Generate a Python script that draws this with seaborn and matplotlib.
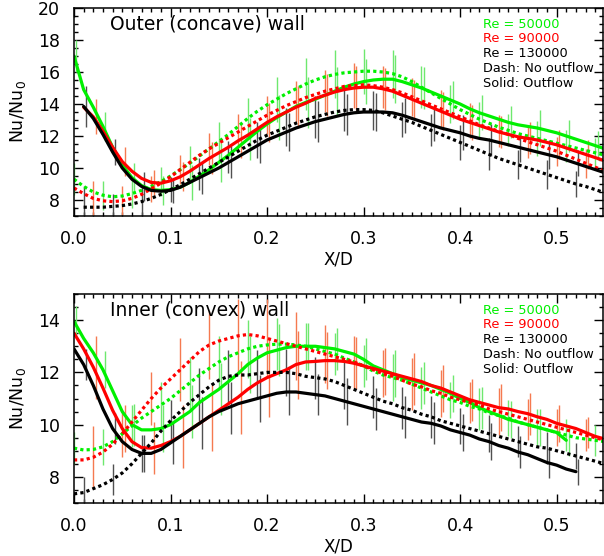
import numpy as np
import pandas as pd
import matplotlib
matplotlib.use("Agg")
import matplotlib.pyplot as plt
from matplotlib.ticker import MultipleLocator, FormatStrFormatter
import seaborn as sns

nan = np.nan

# X/D stations (every 0.01)
x_d = [0.00, 0.01, 0.02, 0.03, 0.04, 0.05, 0.06, 0.07, 0.08, 0.09,
       0.10, 0.11, 0.12, 0.13, 0.14, 0.15, 0.16, 0.17, 0.18, 0.19,
       0.20, 0.21, 0.22, 0.23, 0.24, 0.25, 0.26, 0.27, 0.28, 0.29,
       0.30, 0.31, 0.32, 0.33, 0.34, 0.35, 0.36, 0.37, 0.38, 0.39,
       0.40, 0.41, 0.42, 0.43, 0.44, 0.45, 0.46, 0.47, 0.48, 0.49,
       0.50, 0.51, 0.52, 0.53, 0.54, 0.55]

re_levels = ["50000", "90000", "130000"]

# ---- outer (concave) wall ----
gs_top = [17.0, 14.9, 13.8, 12.6, 11.3, 10.2, 9.4, 8.9, 8.65, 8.6,
          8.65, 8.8, 9.1, 9.5, 9.9, 10.35, 10.8, 11.3, 11.8, 12.3,
          12.75, 13.15, 13.5, 13.85, 14.1, 14.3, 14.55, 14.8, 15.05, 15.25,
          15.4, 15.5, 15.55, 15.55, 15.4, 15.2, 15.0, 14.75, 14.5, 14.25,
          14.0, 13.7, 13.45, 13.25, 13.05, 12.85, 12.7, 12.6, 12.5, 12.35,
          12.2, 12.0, 11.8, 11.6, 11.4, 11.2]
gd_top = [9.3, 8.85, 8.5, 8.3, 8.2, 8.25, 8.4, 8.6, 8.85, 9.15,
          9.5, 9.9, 10.3, 10.75, 11.2, 11.65, 12.1, 12.6, 13.1, 13.55,
          13.95, 14.3, 14.65, 14.95, 15.25, 15.5, 15.7, 15.85, 15.95, 16.0,
          16.05, 16.05, 16.0, 15.9, 15.7, 15.4, 15.05, 14.7, 14.35, 14.0,
          13.65, 13.35, 13.05, 12.8, 12.55, 12.35, 12.15, 12.0, 11.85, 11.7,
          11.55, 11.4, 11.25, 11.1, 10.95, 10.8]
rs_top = [nan, 13.8, 13.2, 12.3, 11.3, 10.4, 9.8, 9.35, 9.1, 9.05,
          9.2, 9.45, 9.8, 10.2, 10.6, 10.95, 11.3, 11.7, 12.05, 12.45,
          12.85, 13.2, 13.5, 13.8, 14.05, 14.35, 14.55, 14.75, 14.9, 15.0,
          15.05, 15.05, 14.95, 14.8, 14.55, 14.3, 14.05, 13.8, 13.55, 13.3,
          13.05, 12.85, 12.65, 12.45, 12.25, 12.1, 11.95, 11.85, 11.75, 11.6,
          11.45, 11.25, 11.05, 10.85, 10.65, 10.45]
rd_top = [8.75, 8.4, 8.1, 7.95, 7.9, 7.95, 8.1, 8.35, 8.7, 9.05,
          9.45, 9.9, 10.35, 10.8, 11.2, 11.55, 11.9, 12.25, 12.6, 12.95,
          13.3, 13.6, 13.9, 14.15, 14.4, 14.6, 14.8, 14.95, 15.1, 15.15,
          15.2, 15.15, 15.05, 14.9, 14.7, 14.45, 14.2, 13.95, 13.7, 13.45,
          13.2, 12.95, 12.7, 12.5, 12.3, 12.1, 11.85, 11.65, 11.45, 11.25,
          11.05, 10.8, 10.55, 10.3, 10.05, 9.8]
ks_top = [nan, 13.85, 13.1, 12.1, 11.0, 10.0, 9.3, 8.85, 8.6, 8.55,
          8.6, 8.8, 9.1, 9.4, 9.7, 10.0, 10.35, 10.7, 11.05, 11.4,
          11.75, 12.0, 12.25, 12.5, 12.7, 12.9, 13.05, 13.2, 13.35, 13.45,
          13.5, 13.5, 13.5, 13.45, 13.3, 13.1, 12.9, 12.7, 12.5, 12.35,
          12.2, 12.0, 11.85, 11.75, 11.6, 11.45, 11.3, 11.15, 11.0, 10.85,
          10.7, 10.5, 10.3, 10.1, 9.9, 9.7]
kd_top = [nan, 7.55, 7.55, 7.55, 7.6, 7.65, 7.75, 7.9, 8.1, 8.35,
          8.65, 8.95, 9.3, 9.65, 10.0, 10.35, 10.7, 11.05, 11.4, 11.75,
          12.05, 12.3, 12.55, 12.8, 13.0, 13.2, 13.35, 13.5, 13.6, 13.65,
          13.65, 13.6, 13.45, 13.25, 13.05, 12.85, 12.6, 12.35, 12.1, 11.85,
          11.6, 11.35, 11.1, 10.85, 10.6, 10.4, 10.2, 10.0, 9.8, 9.6,
          9.4, 9.2, 9.0, 8.85, 8.65, 8.45]

# ---- inner (convex) wall ----
gs_bot = [13.95, 13.3, 12.75, 12.1, 11.3, 10.5, 10.0, 9.8, 9.8, 9.85,
          10.0, 10.25, 10.5, 10.85, 11.1, 11.35, 11.65, 11.95, 12.3, 12.55,
          12.75, 12.85, 12.95, 13.0, 13.0, 13.0, 12.95, 12.9, 12.8, 12.7,
          12.5, 12.25, 12.1, 11.95, 11.8, 11.7, 11.6, 11.5, 11.35, 11.2,
          11.0, 10.85, 10.65, 10.5, 10.35, 10.2, 10.1, 10.0, 9.9, 9.8,
          9.7, 9.4, nan, nan, nan, nan]
gd_bot = [9.1, 9.03, 9.05, 9.15, 9.35, 9.65, 9.95, 10.25, 10.5, 10.75,
          11.0, 11.3, 11.6, 11.9, 12.15, 12.4, 12.6, 12.75, 12.9, 13.0,
          13.05, 13.08, 13.08, 13.05, 13.0, 12.9, 12.8, 12.7, 12.55, 12.4,
          12.25, 12.05, 11.9, 11.8, 11.7, 11.55, 11.4, 11.25, 11.1, 10.95,
          10.85, 10.7, 10.6, 10.45, 10.35, 10.25, 10.1, 10.0, 9.9, 9.8,
          9.7, 9.6, 9.5, 9.45, 9.4, 9.35]
rs_bot = [13.5, 12.9, 12.2, 11.4, 10.55, 9.85, 9.35, 9.12, 9.1, 9.2,
          9.35, 9.55, 9.8, 10.05, 10.3, 10.55, 10.8, 11.05, 11.35, 11.6,
          11.8, 11.95, 12.1, 12.3, 12.4, 12.42, 12.45, 12.45, 12.42, 12.35,
          12.25, 12.15, 12.05, 11.95, 11.85, 11.75, 11.65, 11.5, 11.4, 11.25,
          11.1, 10.95, 10.85, 10.75, 10.65, 10.6, 10.5, 10.42, 10.3, 10.2,
          10.05, 9.95, 9.85, 9.7, 9.55, 9.45]
rd_bot = [8.65, 8.65, 8.75, 8.95, 9.25, 9.65, 10.1, 10.55, 11.0, 11.4,
          11.75, 12.1, 12.45, 12.8, 13.05, 13.2, 13.3, 13.4, 13.45, 13.4,
          13.3, 13.2, 13.1, 13.0, 12.9, 12.8, 12.7, 12.6, 12.5, 12.4,
          12.25, 12.1, 11.95, 11.85, 11.7, 11.55, 11.45, 11.3, 11.2, 11.05,
          10.95, 10.85, 10.75, 10.6, 10.5, 10.4, 10.3, 10.2, 10.1, 10.0,
          9.9, 9.8, 9.7, 9.6, 9.5, 9.4]
ks_bot = [12.9, 12.3, 11.5, 10.6, 9.85, 9.35, 9.05, 8.9, 8.9, 9.05,
          9.3, 9.55, 9.8, 10.05, 10.3, 10.5, 10.65, 10.8, 10.9, 11.0,
          11.1, 11.2, 11.25, 11.25, 11.2, 11.15, 11.1, 11.0, 10.9, 10.8,
          10.7, 10.6, 10.5, 10.4, 10.3, 10.2, 10.1, 10.05, 9.95, 9.8,
          9.7, 9.6, 9.45, 9.35, 9.2, 9.1, 8.95, 8.85, 8.7, 8.55,
          8.45, 8.3, 8.2, nan, nan, nan]
kd_bot = [7.35, 7.4, 7.55, 7.7, 7.9, 8.15, 8.5, 8.9, 9.3, 9.75,
          10.15, 10.5, 10.85, 11.15, 11.45, 11.7, 11.85, 11.9, 11.9, 11.95,
          12.0, 12.0, 12.0, 11.95, 11.85, 11.8, 11.75, 11.65, 11.5, 11.35,
          11.2, 11.05, 10.9, 10.8, 10.65, 10.55, 10.4, 10.3, 10.15, 10.05,
          9.95, 9.85, 9.75, 9.65, 9.55, 9.45, 9.35, 9.25, 9.15, 9.1,
          9.0, 8.9, 8.8, 8.7, 8.6, 8.5]

# error bar half lengths, one every third station (green from 0.00, black from 0.01, red from 0.02)
err_top = {"50000": [1.0, 0.9, 0.9, 0.9, 1.1, 1.2, 1.3, 1.4, 1.6, 1.5, 1.4, 1.5, 1.3, 1.2, 1.1, 1.0, 1.1, 1.0, 0.9],
           "90000": [1.1, 0.9, 0.8, 0.9, 1.0, 1.1, 1.2, 1.3, 1.3, 1.4, 1.3, 1.2, 1.2, 1.1, 1.0, 1.0, 0.9, 0.9],
           "130000": [1.3, 0.8, 0.9, 0.8, 1.0, 1.0, 1.1, 1.2, 1.3, 1.3, 1.2, 1.1, 1.0, 1.1, 1.0, 0.9, 0.9, 0.8, 0.8]}
err_bot = {"50000": [0.6, 0.7, 0.8, 0.9, 1.0, 1.0, 1.1, 1.0, 0.9, 0.8, 0.8, 0.9, 0.8, 0.7, 0.8, 0.7, 0.7, 0.6, 0.6],
           "90000": [1.2, 0.9, 1.0, 1.2, 1.3, 1.4, 1.5, 1.3, 1.1, 1.0, 0.9, 1.0, 0.9, 0.8, 0.9, 0.8, 0.7, 0.6],
           "130000": [0.6, 0.6, 0.7, 0.8, 1.0, 1.0, 0.9, 0.9, 0.8, 0.9, 0.8, 0.8, 0.8, 0.7, 0.7, 0.6, 0.6, 0.5, 0.5]}
err_start = {"50000": 0, "130000": 1, "90000": 2}

line_colors = {"50000": "#00f000", "90000": "#ff0000", "130000": "#000000"}
bar_colors = {"50000": "#6ee86e", "90000": "#f57a50", "130000": "#505050"}

top = {("50000", "Outflow"): gs_top, ("50000", "No outflow"): gd_top,
       ("90000", "Outflow"): rs_top, ("90000", "No outflow"): rd_top,
       ("130000", "Outflow"): ks_top, ("130000", "No outflow"): kd_top}
bot = {("50000", "Outflow"): gs_bot, ("50000", "No outflow"): gd_bot,
       ("90000", "Outflow"): rs_bot, ("90000", "No outflow"): rd_bot,
       ("130000", "Outflow"): ks_bot, ("130000", "No outflow"): kd_bot}

sns.set_style("ticks")
plt.rcParams["font.family"] = ["DejaVu Sans"]
plt.rcParams["mathtext.fontset"] = "dejavusans"
plt.rcParams["text.color"] = "black"
plt.rcParams["axes.labelcolor"] = "black"
plt.rcParams["xtick.color"] = "black"
plt.rcParams["ytick.color"] = "black"


def draw_panel(ax, curves, errs, title, ylim):
    rows = []
    for (re, flow), nu in curves.items():
        for xv, yv in zip(x_d, nu):
            rows.append((xv, yv, re, flow))
    df = pd.DataFrame(rows, columns=["X/D", "Nu", "Re", "flow"]).dropna()

    # vertical error bars, one on the dashed and one on the solid curve
    for re in re_levels:
        xs, lo, hi = [], [], []
        for k, i in enumerate(range(err_start[re], len(x_d), 3)):
            h = errs[re][k]
            for flow, dx in (("No outflow", 0.0), ("Outflow", 0.0025)):
                v = curves[(re, flow)][i]
                if np.isnan(v):
                    continue
                xs.append(x_d[i] + dx)
                lo.append(v - h)
                hi.append(v + h)
        ax.vlines(xs, lo, hi, colors=bar_colors[re], lw=1.0, zorder=1)

    sns.lineplot(data=df, x="X/D", y="Nu", hue="Re", style="flow",
                 hue_order=re_levels, palette=line_colors,
                 dashes={"No outflow": (1, 1), "Outflow": ""},
                 estimator=None, lw=2.3, legend=False, ax=ax, zorder=2)

    ax.set_xlim(0, 0.548)
    ax.set_ylim(*ylim)
    ax.xaxis.set_major_locator(MultipleLocator(0.1))
    ax.xaxis.set_minor_locator(MultipleLocator(0.01))
    ax.yaxis.set_major_locator(MultipleLocator(2))
    ax.yaxis.set_minor_locator(MultipleLocator(0.5))
    ax.xaxis.set_major_formatter(FormatStrFormatter("%.1f"))
    ax.yaxis.set_major_formatter(FormatStrFormatter("%d"))
    ax.tick_params(which="both", direction="in", top=True, right=True, width=1.0, color="black")
    ax.tick_params(which="major", length=6.5, labelsize=12.5, pad=10)
    ax.tick_params(which="minor", length=3.2)
    for s in ax.spines.values():
        s.set_linewidth(1.1)
        s.set_color("black")
    ax.set_xlabel("X/D", fontsize=12, labelpad=2)
    ax.set_ylabel("Nu/Nu$_0$", fontsize=12.5, labelpad=7)

    ax.text(0.068, 0.923, title, transform=ax.transAxes, fontsize=13.5, va="center", ha="left")
    legend_lines = [("Re = 50000", line_colors["50000"]), ("Re = 90000", line_colors["90000"]),
                    ("Re = 130000", "black"), ("Dash: No outflow", "black"), ("Solid: Outflow", "black")]
    for j, (txt, col) in enumerate(legend_lines):
        ax.text(0.773, 0.923 - j * 0.071, txt, transform=ax.transAxes, fontsize=9.3,
                color=col, va="center", ha="left")


fig = plt.figure(figsize=(6.04, 5.56), dpi=100)
ax1 = fig.add_axes([0.1225, 0.6115, 0.8758, 0.3741])
ax2 = fig.add_axes([0.1225, 0.0953, 0.8758, 0.3759])

draw_panel(ax1, top, err_top, "Outer (concave) wall", (7, 20))
draw_panel(ax2, bot, err_bot, "Inner (convex) wall", (7, 15))

fig.savefig("out.png", dpi=100)
